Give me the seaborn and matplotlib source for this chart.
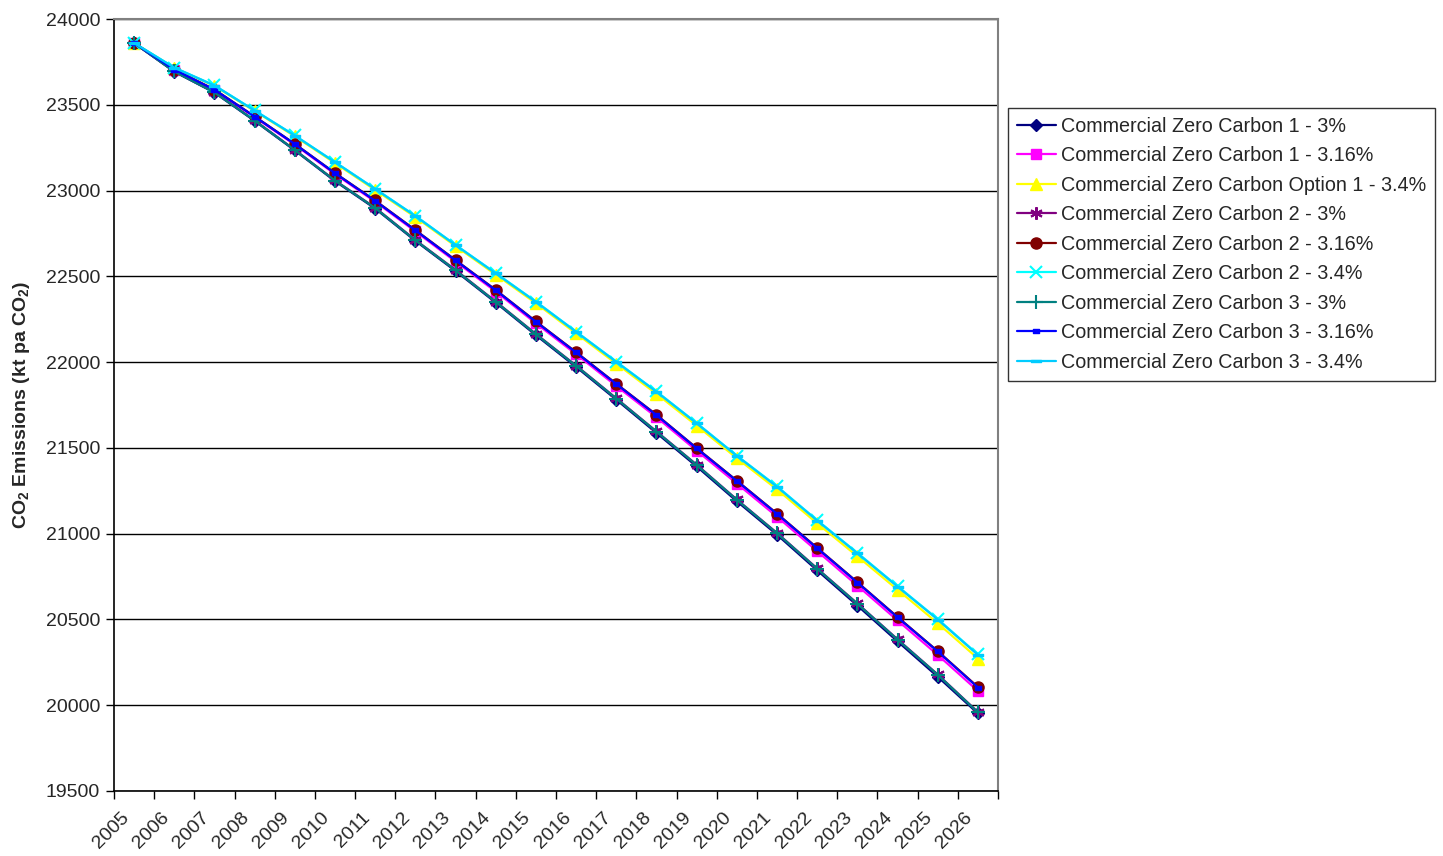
import matplotlib
matplotlib.use("Agg")
import matplotlib.pyplot as plt
import matplotlib.transforms as mtransforms
from matplotlib.path import Path
from matplotlib.ticker import FixedLocator, MultipleLocator
import numpy as np
import pandas as pd
import seaborn as sns

years = [str(y) for y in range(2005, 2027)]

zc1_300 = [23860, 23693, 23571, 23406, 23234, 23055, 22895, 22707, 22531, 22347, 22157,
           21972, 21781, 21587, 21392, 21189, 20994, 20786, 20581, 20372, 20166, 19952]
zc1_316 = [23860, 23704, 23586, 23428, 23267, 23096, 22935, 22762, 22586, 22411, 22226,
           22046, 21861, 21679, 21484, 21292, 21099, 20898, 20697, 20494, 20293, 20083]
zc1_340 = [23860, 23715, 23610, 23463, 23316, 23160, 23003, 22845, 22676, 22510, 22343,
           22167, 21991, 21815, 21630, 21440, 21258, 21060, 20868, 20673, 20478, 20272]
zc2_300 = [23860, 23695, 23573, 23409, 23237, 23059, 22900, 22712, 22537, 22353, 22164,
           21980, 21789, 21596, 21402, 21199, 21004, 20797, 20593, 20384, 20179, 19960]
zc2_316 = [23860, 23705, 23589, 23432, 23272, 23102, 22942, 22770, 22595, 22421, 22237,
           22058, 21874, 21693, 21499, 21309, 21117, 20917, 20717, 20514, 20315, 20106]
zc2_340 = [23860, 23717, 23613, 23467, 23321, 23166, 23010, 22853, 22683, 22519, 22353,
           22178, 22003, 21829, 21645, 21455, 21276, 21078, 20888, 20694, 20502, 20296]
zc3_300 = [23860, 23694, 23572, 23408, 23236, 23058, 22898, 22710, 22535, 22351, 22162,
           21978, 21787, 21594, 21400, 21197, 21002, 20795, 20591, 20382, 20177, 19958]
zc3_316 = [23860, 23705, 23588, 23431, 23271, 23101, 22940, 22768, 22593, 22419, 22235,
           22056, 21872, 21691, 21497, 21307, 21115, 20915, 20715, 20512, 20313, 20103]
zc3_340 = [23860, 23716, 23612, 23466, 23320, 23165, 23009, 22851, 22682, 22517, 22351,
           22176, 22001, 21827, 21643, 21453, 21273, 21076, 20885, 20691, 20499, 20293]

series_names = [
    "Commercial Zero Carbon 1 - 3%",
    "Commercial Zero Carbon 1 - 3.16%",
    "Commercial Zero Carbon Option 1 - 3.4%",
    "Commercial Zero Carbon 2 - 3%",
    "Commercial Zero Carbon 2 - 3.16%",
    "Commercial Zero Carbon 2 - 3.4%",
    "Commercial Zero Carbon 3 - 3%",
    "Commercial Zero Carbon 3 - 3.16%",
    "Commercial Zero Carbon 3 - 3.4%",
]
series_values = [zc1_300, zc1_316, zc1_340, zc2_300, zc2_316, zc2_340,
                 zc3_300, zc3_316, zc3_340]

# dash-shaped markers (short and long filled bars)
short_dash = Path([(-1, -0.45), (1, -0.45), (1, 0.45), (-1, 0.45), (-1, -0.45)],
                  [Path.MOVETO, Path.LINETO, Path.LINETO, Path.LINETO, Path.CLOSEPOLY])
long_dash = Path([(-1, -0.3), (1, -0.3), (1, 0.3), (-1, 0.3), (-1, -0.3)],
                 [Path.MOVETO, Path.LINETO, Path.LINETO, Path.LINETO, Path.CLOSEPOLY])

styles = [
    dict(color="#000080", marker="D", ms=6),
    dict(color="#FF00FF", marker="s", ms=7),
    dict(color="#FFFF00", marker="^", ms=8),
    dict(color="#800080", marker=(6, 2, 0), ms=9, mew=1.5),
    dict(color="#800000", marker="o", ms=8),
    dict(color="#00FFFF", marker="x", ms=8, mew=1.5),
    dict(color="#008080", marker="+", ms=10, mew=1.5),
    dict(color="#0000FF", marker=short_dash, ms=5),
    dict(color="#00CCFF", marker=long_dash, ms=7),
]

frames = []
for name, vals in zip(series_names, series_values):
    frames.append(pd.DataFrame({"year": years, "pos": np.arange(len(years)),
                                "value": vals, "series": name}))
df = pd.concat(frames, ignore_index=True)

sns.set_style("white")
plt.rcParams["font.family"] = ["Liberation Sans", "DejaVu Sans"]
plt.rcParams["mathtext.fontset"] = "custom"
plt.rcParams["mathtext.rm"] = "Liberation Sans:bold"
plt.rcParams["mathtext.default"] = "rm"

fig = plt.figure(figsize=(14.43, 8.56), dpi=100)
ax = fig.add_axes([0.079, 0.076, 0.6126, 0.9018])

for name, st in zip(series_names, styles):
    sub = df[df["series"] == name]
    sns.lineplot(data=sub, x="pos", y="value", ax=ax, color=st["color"],
                 marker=st["marker"], markersize=st["ms"],
                 markeredgecolor=st["color"], markerfacecolor=st["color"],
                 markeredgewidth=st.get("mew", 1.0), linewidth=1.6,
                 label=name, sort=False, estimator=None)

ax.set_xlim(-0.5, len(years) - 0.5)
ax.set_ylim(19500, 24000)
ax.yaxis.set_major_locator(MultipleLocator(500))
ax.grid(axis="y", color="black", linewidth=1.0)
ax.grid(axis="x", visible=False)

ax.xaxis.set_major_locator(FixedLocator(np.arange(len(years))))
ax.xaxis.set_minor_locator(FixedLocator(np.arange(len(years) + 1) - 0.5))
ax.set_xticklabels(years, rotation=45, ha="right", va="top", rotation_mode="anchor")
ax.tick_params(axis="x", which="major", length=0, pad=13, labelsize=14)
ax.tick_params(axis="x", which="minor", length=6, width=1, color="black",
               direction="out", bottom=True)
ax.tick_params(axis="y", length=6, width=1, color="black", direction="out",
               left=True, labelsize=14, pad=4)

# nudge the slanted year labels to the left
shift = mtransforms.ScaledTranslation(-14 / 100, 0, fig.dpi_scale_trans)
for lbl in ax.get_xticklabels():
    lbl.set_transform(lbl.get_transform() + shift)

for side in ("left", "bottom"):
    ax.spines[side].set_color("black")
    ax.spines[side].set_linewidth(1.2)
for side in ("top", "right"):
    ax.spines[side].set_color("#808080")
    ax.spines[side].set_linewidth(1.5)

ax.set_xlabel("")
ax.set_ylabel(r"CO$_2$ Emissions (kt pa CO$_2$)", fontsize=14, fontweight="bold",
              labelpad=10)

leg = ax.legend(loc="upper left", bbox_to_anchor=(1.011, 0.885), frameon=True,
                fancybox=False, edgecolor="black", fontsize=14.25, handlelength=2.0,
                handletextpad=0.26, labelspacing=0.53, borderpad=0.45,
                borderaxespad=0)
leg.get_frame().set_linewidth(1.0)

fig.savefig("out.png", dpi=100, facecolor="white")
